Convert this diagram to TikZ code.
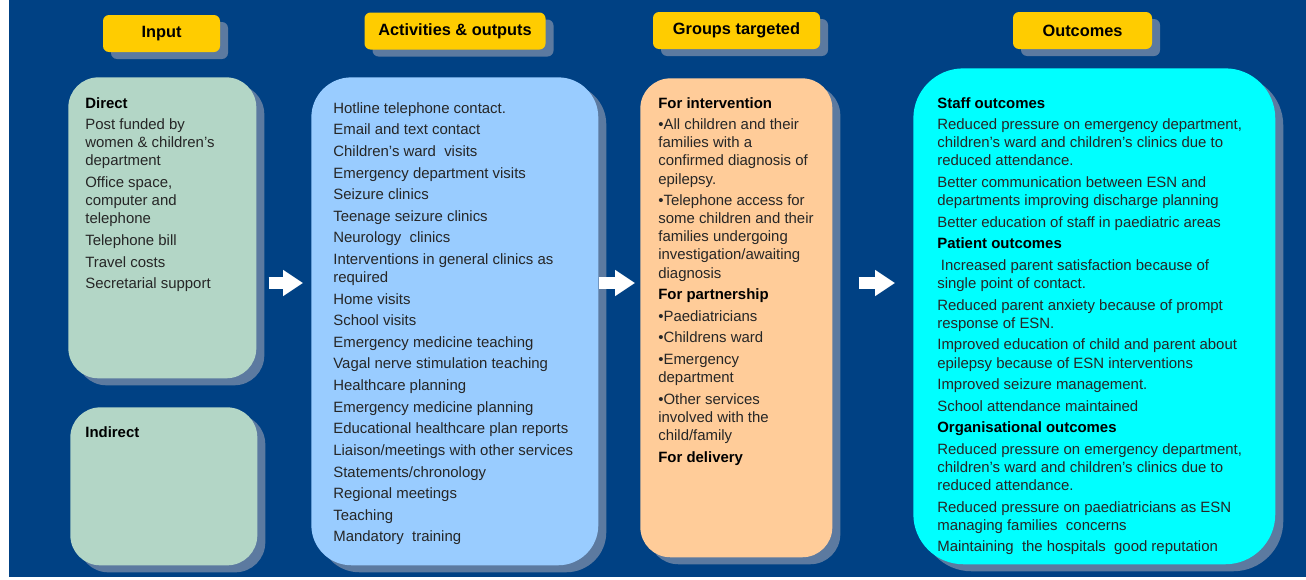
\documentclass[tikz,border=0pt]{standalone}
\usepackage{fontspec}
\setmainfont{Liberation Sans}
\usetikzlibrary{shadows,arrows.meta}
\definecolor{bgblue}{RGB}{0,65,132}
\definecolor{shadowgrey}{RGB}{92,122,160}
\definecolor{titleyellow}{RGB}{255,204,0}
\definecolor{inputgreen}{RGB}{179,214,198}
\definecolor{actblue}{RGB}{153,204,255}
\definecolor{groupspeach}{RGB}{255,204,153}
\definecolor{outcyan}{RGB}{0,255,255}
\tikzset{
	boxshadow/.style={general shadow={fill=shadowgrey, shadow xshift=0.16cm, shadow yshift=-0.14cm}},
	panel/.style={anchor=north west, inner sep=0pt, boxshadow},
	title/.style={fill=titleyellow, rounded corners=0.12cm, minimum height=0.74cm, inner sep=0pt, font=\fontsize{9.3}{11}\selectfont\bfseries, boxshadow},
	blurb/.style={anchor=north west, align=left, inner sep=0pt, text=black!85},
	flow/.style={white, line width=0.24cm, -{Triangle[length=0.4cm,width=0.5cm]}}
}
\begin{document}
\begin{tikzpicture}[x=0.02cm, y=-0.02cm, font=\fontsize{8.5}{10.3}\selectfont, line join=round]
	\useasboundingbox (0,0) rectangle (1306,579);
	\fill[bgblue] (9,0) rectangle (1306,577);
	% column headings
	\foreach \n/\cx/\cy/\w/\lbl in {input/161.5/33.5/117/Input, act/455/31/181/Activities \& outputs, groups/736.5/30.5/167/Groups targeted, outc/1082.5/30.5/139/Outcomes}
		\node[title, minimum width=\w*0.02cm] (\n) at (\cx,\cy) {\lbl};
	% panels
	\node[panel, fill=inputgreen, minimum width=3.76cm, minimum height=6.02cm, rounded corners=0.6cm] (direct) at (68,77) {};
	\node[panel, fill=inputgreen, minimum width=3.74cm, minimum height=3.16cm, rounded corners=0.6cm] (indirect) at (70,407) {};
	\node[panel, fill=actblue, minimum width=5.74cm, minimum height=9.76cm, rounded corners=0.8cm] (actbox) at (311,77) {};
	\node[panel, fill=groupspeach, minimum width=3.84cm, minimum height=9.58cm, rounded corners=0.6cm] (groupbox) at (640,78) {};
	\node[panel, fill=outcyan, minimum width=7.24cm, minimum height=9.92cm, rounded corners=1cm] (outbox) at (913,68) {};
	% panel texts
	\node[blurb] (directtxt) at (85,97) {\textbf{\color{black}Direct}\\[2pt]
		Post funded by\\ women \& children's\\ department\\[2pt]
		Office space,\\ computer and\\ telephone\\[2pt]
		Telephone bill\\[2pt] Travel costs\\[2pt] Secretarial support};
	\node[blurb] (indirecttxt) at (85,426) {\textbf{\color{black}Indirect}};
	\node[blurb] (acttxt) at (333,102) {Hotline telephone contact.\\[2pt]
		Email and text contact\\[2pt] Children's ward\ \ visits\\[2pt]
		Emergency department visits\\[2pt] Seizure clinics\\[2pt]
		Teenage seizure clinics\\[2pt] Neurology\ \ clinics\\[2pt]
		Interventions in general clinics as\\ required\\[2pt]
		Home visits\\[2pt] School visits\\[2pt] Emergency medicine teaching\\[2pt]
		Vagal nerve stimulation teaching\\[2pt] Healthcare planning\\[2pt]
		Emergency medicine planning\\[2pt] Educational healthcare plan reports\\[2pt]
		Liaison/meetings with other services\\[2pt] Statements/chronology\\[2pt]
		Regional meetings\\[2pt] Teaching\\[2pt] Mandatory\ \ training};
	\node[blurb] (grouptxt) at (658,97) {\textbf{\color{black}For intervention}\\[2pt]
		\textbullet All children and their\\ families with a\\ confirmed diagnosis of\\ epilepsy.\\[2pt]
		\textbullet Telephone access for\\ some children and their\\ families undergoing\\ investigation/awaiting\\ diagnosis\\[2pt]
		\textbf{\color{black}For partnership}\\[2pt]
		\textbullet Paediatricians\\[2pt] \textbullet Childrens ward\\[2pt]
		\textbullet Emergency\\ department\\[2pt]
		\textbullet Other services\\ involved with the\\ child/family\\[2pt]
		\textbf{\color{black}For delivery}};
	\node[blurb] (outtxt) at (937,97) {\textbf{\color{black}Staff outcomes}\\[2pt]
		Reduced pressure on emergency department,\\ children's ward and children's clinics due to\\ reduced attendance.\\[2pt]
		Better communication between ESN and\\ departments improving discharge planning\\[2pt]
		Better education of staff in paediatric areas\\[2pt]
		\textbf{\color{black}Patient outcomes}\\[2pt]
		\hspace{2pt}Increased parent satisfaction because of\\ single point of contact.\\[2pt]
		Reduced parent anxiety because of prompt\\ response of ESN.\\[2pt]
		Improved education of child and parent about\\ epilepsy because of ESN interventions\\[2pt]
		Improved seizure management.\\[2pt] School attendance maintained\\[2pt]
		\textbf{\color{black}Organisational outcomes}\\[2pt]
		Reduced pressure on emergency department,\\ children's ward and children's clinics due to\\ reduced attendance.\\[2pt]
		Reduced pressure on paediatricians as ESN\\ managing families\ \ concerns\\[2pt]
		Maintaining\ \ the hospitals\ \ good reputation};
	% arrows between panels
	\coordinate (mid) at (0,283);
	\draw[flow, shorten <=0.24cm, shorten >=0.16cm] (direct.east |- mid) -- (actbox.west |- mid);
	\draw[flow, shorten <=0cm, shorten >=0.1cm] (actbox.east |- mid) -- (groupbox.west |- mid);
	\draw[flow, shorten <=0.52cm, shorten >=0.36cm] (groupbox.east |- mid) -- (outbox.west |- mid);
\end{tikzpicture}
\end{document}
